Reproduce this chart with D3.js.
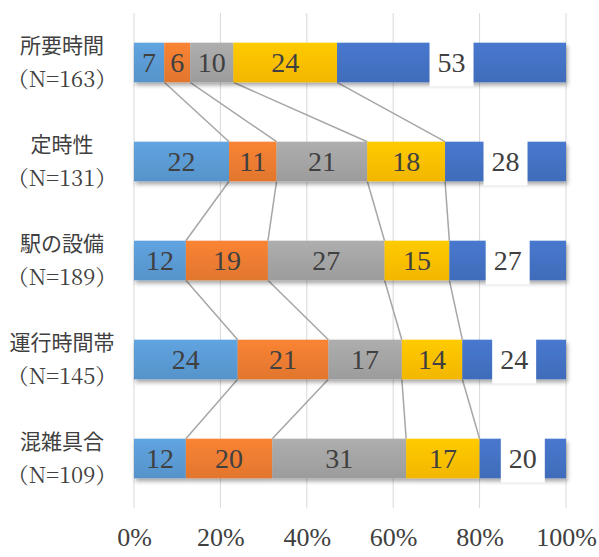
<!DOCTYPE html>
<html>
<head>
<meta charset="utf-8">
<script src="https://cdn.jsdelivr.net/npm/d3@7"></script>
<style>
  html, body { margin: 0; padding: 0; background: #fff; }
  svg { display: block; }
</style>
</head>
<body>
<svg id="chart" width="599" height="557"></svg>
<script>
// Categories (two-line labels) and percentage shares per response series
const categories = ["所要時間", "定時性", "駅の設備", "運行時間帯", "混雑具合"];
const sampleSizes = ["（N=163）", "（N=131）", "（N=189）", "（N=145）", "（N=109）"];
const series1 = [7, 22, 12, 24, 12];
const series2 = [6, 11, 19, 21, 20];
const series3 = [10, 21, 27, 17, 31];
const series4 = [24, 18, 15, 14, 17];
const series5 = [53, 28, 27, 24, 20];
const tickValues = [0, 20, 40, 60, 80, 100];
const tickLabels = ["0%", "20%", "40%", "60%", "80%", "100%"];
const seriesColors = ["#5B9BD5", "#ED7D31", "#A5A5A5", "#FFC000", "#4472C4"];

const allSeries = [series1, series2, series3, series4, series5];

const svg = d3.select("#chart");
const plotLeft = 134, plotRight = 566, plotTop = 13, plotBottom = 508;

const x = d3.scaleLinear().domain([0, 100]).range([plotLeft, plotRight]);
const y = d3.scaleBand().domain(categories).range([plotTop, plotBottom])
  .paddingInner(0.6).paddingOuter(0.3);

// Drop shadow + soft vertical shading for bars
const defs = svg.append("defs");
const shadow = defs.append("filter").attr("id", "shadow")
  .attr("x", "-5%").attr("y", "-20%").attr("width", "115%").attr("height", "160%");
shadow.append("feDropShadow").attr("dx", 1.5).attr("dy", 3)
  .attr("stdDeviation", 2).attr("flood-color", "#000").attr("flood-opacity", 0.35);

seriesColors.forEach((c, i) => {
  const g = defs.append("linearGradient").attr("id", "grad" + i)
    .attr("x1", 0).attr("y1", 0).attr("x2", 0).attr("y2", 1);
  g.append("stop").attr("offset", "0%").attr("stop-color", d3.color(c).brighter(0.15));
  g.append("stop").attr("offset", "100%").attr("stop-color", d3.color(c).darker(0.15));
});

// Vertical gridlines
svg.append("g").selectAll("line").data(tickValues).join("line")
  .attr("x1", d => x(d)).attr("x2", d => x(d))
  .attr("y1", plotTop).attr("y2", plotBottom)
  .attr("stroke", "#D9D9D9").attr("stroke-width", 1);

// Stacked layout
const rows = categories.map((c, i) => {
  let acc = 0;
  return allSeries.map((s, k) => {
    const seg = { cat: c, k, v: s[i], x0: acc, x1: acc + s[i] };
    acc += s[i];
    return seg;
  });
});

// Series lines joining segment boundaries between neighbouring bars
const seriesLines = [];
for (let i = 0; i < categories.length - 1; i++) {
  for (let k = 0; k < 4; k++) {
    seriesLines.push({
      xa: rows[i][k].x1, ya: y(categories[i]) + y.bandwidth(),
      xb: rows[i + 1][k].x1, yb: y(categories[i + 1])
    });
  }
}
svg.append("g").selectAll("line").data(seriesLines).join("line")
  .attr("x1", d => x(d.xa)).attr("y1", d => d.ya)
  .attr("x2", d => x(d.xb)).attr("y2", d => d.yb)
  .attr("stroke", "#A6A6A6").attr("stroke-width", 1.5);

// Bars
const barG = svg.append("g");
rows.forEach(row => {
  barG.append("g").attr("filter", "url(#shadow)")
    .selectAll("rect").data(row).join("rect")
    .attr("x", d => x(d.x0))
    .attr("y", d => y(d.cat))
    .attr("width", d => x(d.x1) - x(d.x0))
    .attr("height", y.bandwidth())
    .attr("fill", d => `url(#grad${d.k})`);
});

// Value labels
const labelG = svg.append("g");
rows.forEach(row => {
  row.forEach(d => {
    const cx = (x(d.x0) + x(d.x1)) / 2;
    const cy = y(d.cat) + y.bandwidth() / 2;
    if (d.k === 4) {
      labelG.append("rect")
        .attr("x", cx - 22).attr("y", cy - 25)
        .attr("width", 44).attr("height", 49)
        .attr("fill", "#fff");
    }
    labelG.append("text")
      .attr("x", cx).attr("y", cy + 9)
      .attr("text-anchor", "middle")
      .attr("font-family", "Liberation Serif")
      .attr("font-size", 28)
      .attr("fill", "#404040")
      .text(d.v);
  });
});

// Category labels
const catG = svg.append("g");
categories.forEach((c, i) => {
  const cy = y(c) + y.bandwidth() / 2;
  catG.append("text")
    .attr("x", 62).attr("y", cy - 10)
    .attr("text-anchor", "middle")
    .attr("font-family", "Noto Sans CJK JP")
    .attr("font-size", 21)
    .attr("fill", "#404040")
    .text(c);
  catG.append("text")
    .attr("x", 62).attr("y", cy + 24)
    .attr("text-anchor", "middle")
    .attr("font-family", "Noto Serif CJK JP")
    .attr("font-size", 22)
    .attr("fill", "#404040")
    .text(sampleSizes[i]);
});

// X axis tick labels
const axis = d3.axisBottom(x).tickValues(tickValues)
  .tickFormat((d, i) => tickLabels[i]).tickSize(0).tickPadding(0);
const axG = svg.append("g").attr("transform", "translate(0,528)").call(axis);
axG.select(".domain").remove();
axG.attr("font-family", "Liberation Serif").attr("font-size", 26);
axG.selectAll("text")
  .attr("font-family", "Liberation Serif")
  .attr("font-size", 26)
  .attr("fill", "#404040");
</script>
</body>
</html>
